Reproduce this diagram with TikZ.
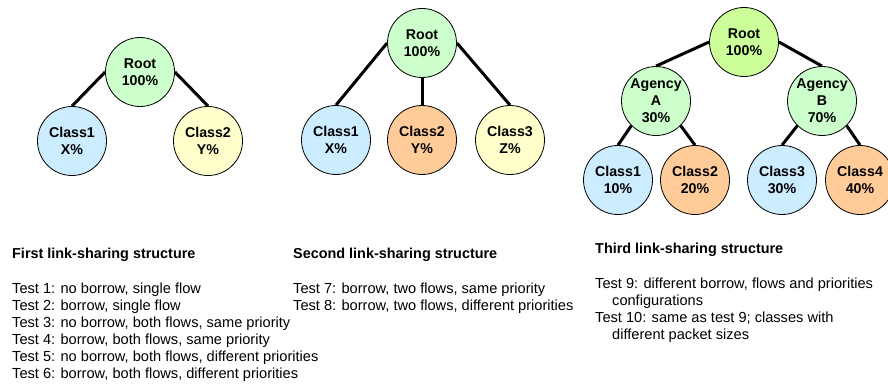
\documentclass[tikz,border=0pt]{standalone}
\usepackage{fontspec}
\setmainfont{Liberation Sans}
\definecolor{rootgreen}{HTML}{CCFFCC}
\definecolor{rootlime}{HTML}{CCFF99}
\definecolor{clblue}{HTML}{CCECFF}
\definecolor{clorange}{HTML}{FFCC99}
\definecolor{clyellow}{HTML}{FFFFCC}
\begin{document}
\begin{tikzpicture}[x=1pt,y=-1pt,
  cls/.style={circle,draw=black,line width=0.8pt,minimum size=69pt,inner sep=0pt,
    align=center,font=\fontsize{14.2}{17}\selectfont\bfseries},
  link/.style={line width=3pt,line cap=butt},
  ttl/.style={anchor=base west,inner sep=0pt,font=\fontsize{14.4}{17}\selectfont\bfseries},
  txt/.style={anchor=base west,inner sep=0pt,font=\fontsize{14.6}{17}\selectfont}]
\useasboundingbox (0,0) rectangle (888,385);
% tree 1
\node[cls,fill=rootgreen] (r1) at (140,72) {Root\\100\%};
\node[cls,fill=clblue] (a1) at (72,141) {Class1\\X\%};
\node[cls,fill=clyellow] (a2) at (208,141) {Class2\\Y\%};
\draw[link] (r1.west) -- (a1.north);
\draw[link] (r1.east) -- (a2.north);
% tree 2
\node[cls,fill=rootgreen] (r2) at (422,43) {Root\\100\%};
\node[cls,fill=clblue] (b1) at (336,140) {Class1\\X\%};
\node[cls,fill=clorange] (b2) at (422,140) {Class2\\Y\%};
\node[cls,fill=clyellow] (b3) at (510,140) {Class3\\Z\%};
\draw[link] (r2.west) -- (b1.north);
\draw[link] (r2.south) -- (b2.north);
\draw[link] (r2.east) -- (b3.north);
% tree 3
\node[cls,fill=rootlime] (r3) at (744,42) {Root\\100\%};
\node[cls,fill=rootgreen] (ga) at (656,101) {Agency\\A\\30\%};
\node[cls,fill=rootgreen] (gb) at (822,101) {Agency\\B\\70\%};
\node[cls,fill=clblue] (c1) at (618,180) {Class1\\10\%};
\node[cls,fill=clorange] (c2) at (695,180) {Class2\\20\%};
\node[cls,fill=clblue] (c3) at (782,180) {Class3\\30\%};
\node[cls,fill=clorange] (c4) at (860,180) {Class4\\40\%};
\draw[link] (r3.west) -- (ga.north);
\draw[link] (r3.east) -- (gb.north);
\draw[link] (ga.-135) -- (c1.north);
\draw[link] (ga.-45) -- (c2.north);
\draw[link] (gb.-135) -- (c3.north);
\draw[link] (gb.-45) -- (c4.north);
% texts
\node[ttl] (h1) at (12,258) {First link-sharing structure};
\node[txt] (l1) at (12,293) {Test 1: no borrow, single flow};
\node[txt] (l2) at (12,310) {Test 2: borrow, single flow};
\node[txt] (l3) at (12,327) {Test 3: no borrow, both flows, same priority};
\node[txt] (l4) at (12,344) {Test 4: borrow, both flows, same priority};
\node[txt] (l5) at (12,361) {Test 5: no borrow, both flows, different priorities};
\node[txt] (l6) at (12,378) {Test 6: borrow, both flows, different priorities};
\node[ttl] (h2) at (293,258) {Second link-sharing structure};
\node[txt] (l7) at (293,293) {Test 7: borrow, two flows, same priority};
\node[txt] (l8) at (293,310) {Test 8: borrow, two flows, different priorities};
\node[ttl] (h3) at (595,253) {Third link-sharing structure};
\node[txt] (l9) at (595,288) {Test 9: different borrow, flows and priorities};
\node[txt] (l9b) at (612,305) {configurations};
\node[txt] (l10) at (595,322) {Test 10: same as test 9; classes with};
\node[txt] (l10b) at (612,339) {different packet sizes};
\end{tikzpicture}
\end{document}
